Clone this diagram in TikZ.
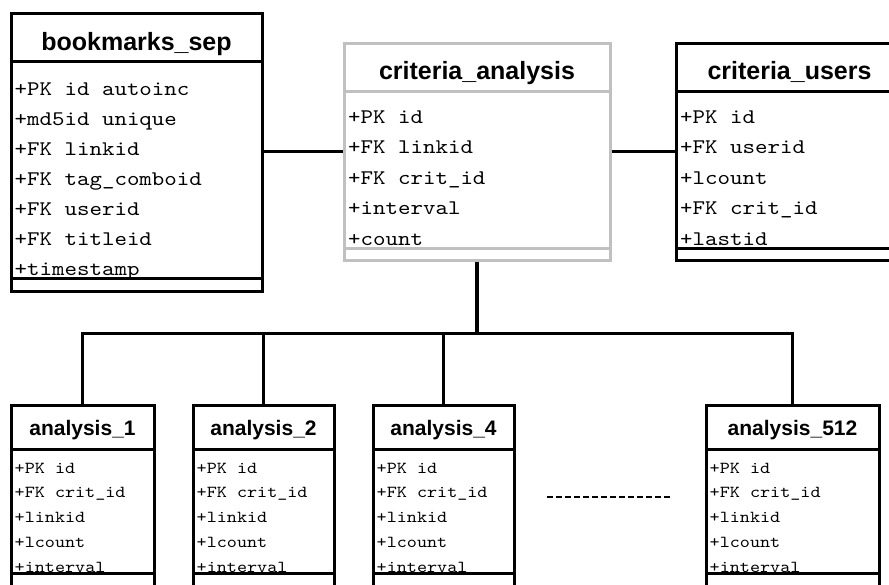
\documentclass[tikz,border=0pt]{standalone}
\usepackage{fontspec}
\usetikzlibrary{fit}
\newfontfamily\headfont{Liberation Sans}
% serif typewriter face, widened to a 0.6em advance
\newfontfamily\colfont{lmmono10-regular.otf}[FakeStretch=1.143]
\definecolor{lightgrey}{HTML}{C0C0C0}

% outer frame of a table: name, colour, left, top, right, header line, body line, bottom
\newcommand\dbframe[8]{%
  \node[tablebox=#2, fit={(#3,#4) (#5,#8)}] (#1) {};
}
% header and body separator lines: colour, left, right, header line, body line, bottom
\newcommand\dbrules[6]{%
  \draw[rule=#1] (#2,#4) -- (#3,#4) (#2,#5) -- (#3,#5);
}

\begin{document}
\begin{tikzpicture}[
  x=1pt, y=-1pt,
  tablebox/.style={draw=#1, line width=3pt, inner sep=0pt, fill=white},
  rule/.style={draw=#1, line width=3pt},
  bigtitle/.style={anchor=base, inner sep=0pt, font=\headfont\bfseries\fontsize{25}{25}\selectfont},
  smalltitle/.style={anchor=base, inner sep=0pt, font=\headfont\bfseries\fontsize{21}{21}\selectfont},
  bigrow/.style={anchor=base west, inner sep=0pt, font=\colfont\fontsize{20.8}{20.8}\selectfont},
  smallrow/.style={anchor=base west, inner sep=0pt, font=\colfont\fontsize{16.8}{16.8}\selectfont},
  link/.style={draw=black, line width=3pt},
  trunk/.style={draw=black, line width=4pt},
]
\useasboundingbox (0,0) rectangle (889,584);
\clip (0,0) rectangle (889,584);

% ---------- bookmarks_sep ----------
\dbframe{bm}{black}{11}{13}{262}{61}{278}{291}
\node[bigtitle] (bm-title) at (136.5,50) {bookmarks\_sep};
\begin{scope}
  \clip (11,61) rectangle (262,278);
  \foreach \txt [count=\i from 0] in
    {+PK id autoinc, +md5id unique, +FK linkid, +FK tag\_comboid,
     +FK userid, +FK titleid, +timestamp}
    \node[bigrow] (bm-r\i) at (14.5,95+30*\i) {\txt};
\end{scope}
\dbrules{black}{11}{262}{61}{278}{291}

% ---------- criteria_analysis ----------
\dbframe{ca}{lightgrey}{344}{43}{610}{91}{248}{260}
\node[bigtitle] (ca-title) at (477,79) {criteria\_analysis};
\begin{scope}
  \clip (344,91) rectangle (610,248);
  \foreach \txt [count=\i from 0] in
    {+PK id, +FK linkid, +FK crit\_id, +interval, +count}
    \node[bigrow] (ca-r\i) at (348,123+30.5*\i) {\txt};
\end{scope}
\dbrules{lightgrey}{344}{610}{91}{248}{260}

% ---------- criteria_users ----------
\dbframe{cu}{black}{676}{43}{903}{91}{248}{260}
\node[bigtitle] (cu-title) at (789.5,79) {criteria\_users};
\begin{scope}
  \clip (676,91) rectangle (903,248);
  \foreach \txt [count=\i from 0] in
    {+PK id, +FK userid, +lcount, +FK crit\_id, +lastid}
    \node[bigrow] (cu-r\i) at (680,123+30.5*\i) {\txt};
\end{scope}
\dbrules{black}{676}{903}{91}{248}{260}

% ---------- analysis tables ----------
\foreach \tname/\tleft/\tright/\ttext in
  {a1/11/154/analysis\_1, a2/193/334/analysis\_2,
   a4/373/514/analysis\_4, a512/706/879/analysis\_512}
{
  \dbframe{\tname}{black}{\tleft}{405}{\tright}{449}{573}{600}
  \node[smalltitle] (\tname-title) at ({(\tleft+\tright)/2},435) {\ttext};
  \begin{scope}
    \clip (\tleft,449) rectangle (\tright,573);
    \foreach \txt [count=\i from 0] in
      {+PK id, +FK crit\_id, +linkid, +lcount, +interval}
      \node[smallrow] (\tname-r\i) at (\tleft+3.5,473+24.75*\i) {\txt};
  \end{scope}
  \dbrules{black}{\tleft}{\tright}{449}{573}{600}
}

% ---------- relations ----------
\draw[link] (bm.east |- ca.west) -- (ca.west);
\draw[link] (ca.east) -- (ca.east -| cu.west);

\coordinate (bus) at (477,333);
\draw[trunk] (ca.south) -- (bus);
\draw[link] (a1.north) |- (bus) -| (a512.north);
\draw[link] (a2.north) -- (a2.north |- bus);
\draw[link] (a4.north) -- (a4.north |- bus);

% tables left out between analysis_4 and analysis_512
\coordinate (gapL) at (547,497);
\coordinate (gapR) at (672,497);
\draw[line width=2pt, dash pattern=on 6pt off 3pt] (gapL) -- (gapR);
\end{tikzpicture}
\end{document}
